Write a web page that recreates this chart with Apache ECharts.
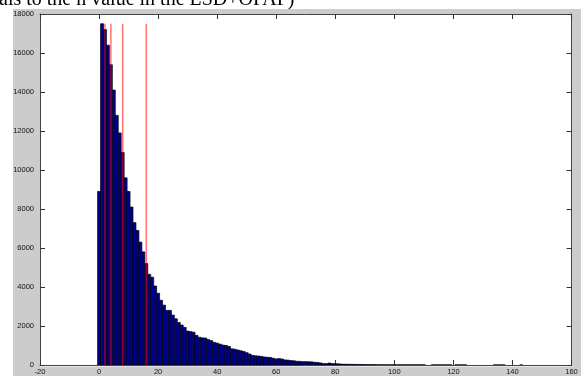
<!DOCTYPE html>
<html>
<head>
<meta charset="utf-8">
<script src="https://cdn.jsdelivr.net/npm/echarts@6/dist/echarts.min.js"></script>
<style>
  html, body { margin: 0; padding: 0; background: #fff; }
  #chart { width: 581px; height: 376px; }
</style>
</head>
<body>
<div id="chart"></div>
<script>
// histogram counts, one bin per integer value starting at 0
const BIN_START = 0;
const BIN_WIDTH = 1;
const COUNTS = [
  8900, 17500, 17200, 16400, 15400, 14100, 12800, 11900, 10900, 9600,
  8900, 8100, 7300, 6900, 6300, 5800, 5200, 4650, 4500, 4050,
  3680, 3320, 3070, 2800, 2800, 2560, 2370, 2180, 2050, 1930,
  1740, 1710, 1680, 1520, 1420, 1390, 1380, 1300, 1250, 1160,
  1120, 1070, 1020, 1000, 950, 830, 810, 770, 730, 690,
  630, 560, 490, 470, 460, 440, 410, 395, 385, 345,
  310, 330, 305, 260, 250, 225, 215, 190, 185, 170,
  170, 165, 160, 140, 130, 105, 70, 70, 100, 70,
  65, 60, 45, 40, 35, 35, 30, 30, 25, 25,
  20, 18, 15, 15, 12, 8, 8, 8, 8, 8,
  8, 8, 8, 8, 8, 8, 8, 8, 8, 8,
  8, 0, 0, 5, 5, 5, 5, 5, 5, 5,
  0, 5, 5, 5, 5, 0, 0, 0, 0, 0,
  0, 0, 0, 0, 4, 4, 4, 4, 0, 0,
  0, 0, 0, 3
];
// red reference lines
const REF_LINES = [2, 4, 8, 16];
const REF_TOP = 17500;

const X_MIN = -20, X_MAX = 160, X_STEP = 20;
const Y_MIN = 0, Y_MAX = 18000, Y_STEP = 2000;

const chart = echarts.init(document.getElementById('chart'), null, { renderer: 'canvas' });

const tickStyle = { show: true, inside: true, length: 5, lineStyle: { color: '#333', width: 1 } };
const lineStyle = { show: true, onZero: false, lineStyle: { color: '#444', width: 1 } };
const labelStyle = { color: '#111', fontSize: 7.5, fontFamily: 'Liberation Sans', formatter: v => String(v) };

const bars = COUNTS.map((v, i) => [BIN_START + i * BIN_WIDTH, v]);

chart.setOption({
  animation: false,
  backgroundColor: '#fff',
  graphic: [
    // gray figure panel, then the white axes area on top of it
    { type: 'rect', x: 13, y: 9, shape: { x: 0, y: 0, width: 580, height: 380 }, style: { fill: '#cccccc' }, z: 0, silent: true },
    { type: 'rect', x: 40, y: 14, shape: { x: 0, y: 0, width: 531.5, height: 352.5 }, style: { fill: '#ffffff' }, z: 0, silent: true },
    {
      type: 'text', x: -1, y: -10, z: 1,
      style: { text: 'als to the n value in the LSD+OPAP)', font: '20px "Liberation Serif"', fill: '#000' }
    }
  ],
  grid: {
    left: 40, top: 14, right: 9.5, bottom: 9.5,
    show: true, backgroundColor: '#fff', borderColor: '#444', borderWidth: 1
  },
  xAxis: [
    {
      type: 'value', min: X_MIN, max: X_MAX, interval: X_STEP,
      axisLine: lineStyle, axisTick: tickStyle, splitLine: { show: false },
      axisLabel: Object.assign({ margin: 3 }, labelStyle)
    },
    {
      type: 'value', position: 'top', min: X_MIN, max: X_MAX, interval: X_STEP,
      axisLine: lineStyle, axisTick: tickStyle, splitLine: { show: false },
      axisLabel: { show: false }
    }
  ],
  yAxis: [
    {
      type: 'value', min: Y_MIN, max: Y_MAX, interval: Y_STEP,
      axisLine: lineStyle, axisTick: tickStyle, splitLine: { show: false },
      axisLabel: Object.assign({ margin: 6 }, labelStyle)
    },
    {
      type: 'value', position: 'right', min: Y_MIN, max: Y_MAX, interval: Y_STEP,
      axisLine: lineStyle, axisTick: tickStyle, splitLine: { show: false },
      axisLabel: { show: false }
    }
  ],
  series: [
    {
      type: 'custom',
      data: bars,
      clip: true,
      renderItem: (params, api) => {
        const x = api.value(0), v = api.value(1);
        if (!v) return null;
        const p0 = api.coord([x - BIN_WIDTH / 2, v]);
        const p1 = api.coord([x + BIN_WIDTH / 2, 0]);
        return {
          type: 'rect',
          shape: { x: p0[0], y: p0[1], width: p1[0] - p0[0], height: p1[1] - p0[1] },
          style: { fill: '#00008f', stroke: '#000', lineWidth: 0.7 }
        };
      },
      z: 2
    },
    {
      type: 'custom',
      data: REF_LINES.map(x => [x, REF_TOP]),
      renderItem: (params, api) => {
        const x = api.value(0);
        const a = api.coord([x, 0]);
        const b = api.coord([x, api.value(1)]);
        return {
          type: 'line',
          shape: { x1: a[0], y1: a[1], x2: b[0], y2: b[1] },
          style: { stroke: 'rgba(255,0,0,0.55)', lineWidth: 1.5 }
        };
      },
      z: 3
    }
  ]
});
</script>
</body>
</html>
